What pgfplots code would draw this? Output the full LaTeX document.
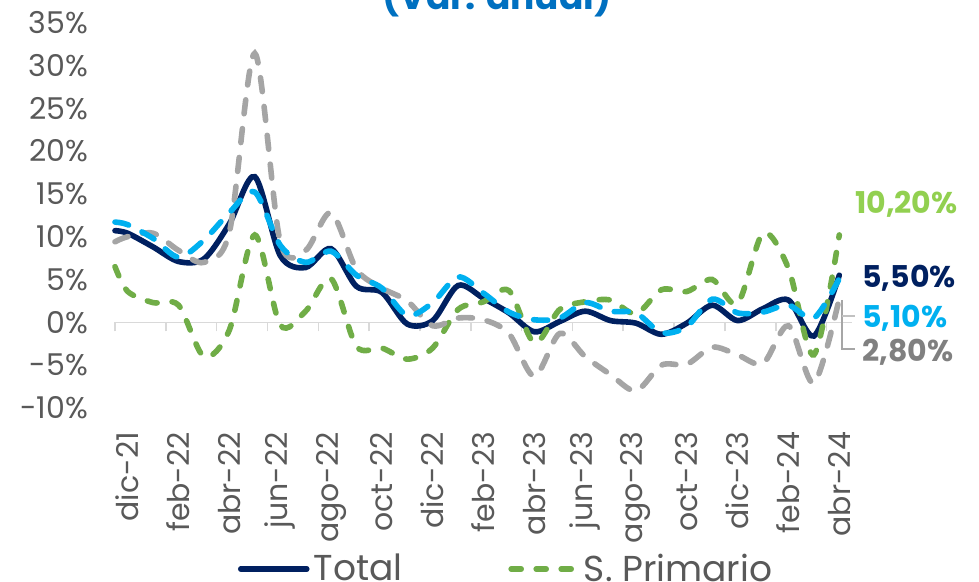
\documentclass[border=0pt]{standalone}
\usepackage{fontspec}
\setmainfont{Poppins}
\usepackage{pgfplots}
\usepackage{pgfplotstable}
\pgfplotsset{compat=1.18}
\definecolor{navy}{HTML}{002060}
\definecolor{pgreen}{HTML}{70AD47}
\definecolor{lgreen}{HTML}{92D050}
\definecolor{pgray}{HTML}{A5A5A5}
\definecolor{lgray}{HTML}{808080}
\definecolor{pcyan}{HTML}{00B0F0}
\definecolor{titleblue}{HTML}{0070C0}
\definecolor{tickgray}{HTML}{595959}
\definecolor{axisgray}{HTML}{D9D9D9}
\definecolor{leadgray}{HTML}{A6A6A6}

\pgfplotstableread{
x     total  prim  sec   ter
-0.5  10.7   6.5   9.4   11.7
0     10.4   3.6   10.0  11.4
1     8.8    2.3   10.4  9.8
2     7.1    2.0   8.4   7.6
3     7.4   -4.0   7.0   9.6
4     11.5  -0.9   10.5  12.8
5     17.0   10.2  31.4  15.2
6     7.8   -0.3   9.4   9.0
7     6.4    1.3   8.4   7.0
8     8.6    5.1   12.8  8.3
9     4.2   -2.8   6.2   5.5
10    3.5   -3.0   4.0   4.0
11   -0.2   -4.3   2.5   0.8
12    0.2   -3.0  -0.4   2.3
13    4.3    1.5   0.5   5.3
14    2.8    2.4   0.3   3.4
15    1.1    3.7  -1.3   1.2
16   -1.1   -2.4  -6.3   0.3
17    0.1    1.5  -1.3   0.5
18    1.3    2.4  -4.0   2.3
19    0.2    2.6  -6.1   1.3
20   -0.1    1.0  -8.0   1.1
21   -1.4    3.8  -5.0  -1.2
22   -0.1    3.6  -4.9  -0.5
23    2.0    5.0  -2.9   2.7
24    0.2    2.2  -3.8   1.1
25    1.6    10.4 -4.8   1.2
26    2.6    6.3  -0.4   2.0
27   -1.6   -3.8  -7.1   0.5
28    5.5    10.2  2.8   5.1
}\datatable

\begin{document}
\begin{tikzpicture}
% zero line with tick marks
\begin{axis}[
  at={(0,0)}, anchor=south west, scale only axis,
  width=368.5pt, height=192.75pt,
  xmin=-0.5, xmax=28.5, ymin=-10, ymax=35,
  axis x line*=middle, axis y line=none,
  xtick={-0.5,1.5,...,27.5}, xticklabels={}, ytick=\empty,
  tick align=outside, major tick length=4.5pt,
  axis line style={color=axisgray, line width=0.8pt},
  tick style={color=axisgray, line width=0.8pt},
]
\addplot[draw=none] coordinates {(0,0)};
\end{axis}

\begin{axis}[
  at={(0,0)}, anchor=south west, scale only axis,
  width=368.5pt, height=192.75pt,
  xmin=-0.5, xmax=28.5, ymin=-10, ymax=35,
  clip=false,
  axis line style={draw=none},
  tick style={draw=none}, major tick length=0pt,
  xtick={0,2,...,28},
  xticklabels={dic-21,feb-22,abr-22,jun-22,ago-22,oct-22,dic-22,feb-23,abr-23,jun-23,ago-23,oct-23,dic-23,feb-24,abr-24},
  xticklabel style={rotate=90, anchor=east, font=\fontsize{15}{18}\selectfont, text=tickgray},
  xticklabel shift=8.5pt,
  ytick={-10,-5,...,35},
  yticklabels={-10\%,-5\%,0\%,5\%,10\%,15\%,20\%,25\%,30\%,35\%},
  yticklabel style={font=\fontsize{15}{18}\selectfont, text=tickgray},
  yticklabel shift=10pt,
  legend columns=2,
  legend style={draw=none, fill=none, at={(0.532,-0.4176)}, anchor=center,
    font=\fontsize{18}{22}\selectfont, text=tickgray,
    /tikz/every even column/.append style={column sep=51pt}},
  legend cell align=left,
  legend image code/.code={\draw[#1] (0pt,0pt) -- (33pt,0pt);},
]
\addplot[navy, line width=2.8pt, smooth, line cap=round] table[x=x, y=total] {\datatable};
\addlegendentry{Total}
\addplot[pgreen, line width=2.8pt, smooth, line cap=round, dash pattern=on 5pt off 7.5pt] table[x=x, y=prim] {\datatable};
\addlegendentry{S. Primario}
\addplot[pgray, line width=2.8pt, smooth, line cap=round, dash pattern=on 7pt off 7.5pt, forget plot] table[x=x, y=sec] {\datatable};
\addplot[pcyan, line width=2.8pt, smooth, line cap=round, dash pattern=on 7pt off 7.5pt, forget plot] table[x=x, y=ter] {\datatable};
\end{axis}

\begin{scope}[x=0.5pt, y=-0.5pt, shift={(-57.5pt,204pt)}]
  \node[anchor=base, inner sep=0pt, text=titleblue, font=\bfseries\fontsize{18}{22}\selectfont] at (497,9.5) {(Var. anual)};
  \draw[leadgray, line width=0.7pt] (842,300) -- (842,349) -- (855,349);
  \draw[leadgray!70, line width=0.7pt] (842,316) -- (855,316);
  \node[anchor=base west, inner sep=0pt, text=lgreen, font=\bfseries\fontsize{15}{18}\selectfont] at (855,214) {10,20\%};
  \node[anchor=base west, inner sep=0pt, text=navy, font=\bfseries\fontsize{15}{18}\selectfont] at (862,288) {5,50\%};
  \node[anchor=base west, inner sep=0pt, text=pcyan, font=\bfseries\fontsize{15}{18}\selectfont] at (862,328) {5,10\%};
  \node[anchor=base west, inner sep=0pt, text=lgray, font=\bfseries\fontsize{15}{18}\selectfont] at (862,361.5) {2,80\%};
  \pgfresetboundingbox
  \useasboundingbox (0,0) rectangle (979,582);
\end{scope}
\end{tikzpicture}
\end{document}
